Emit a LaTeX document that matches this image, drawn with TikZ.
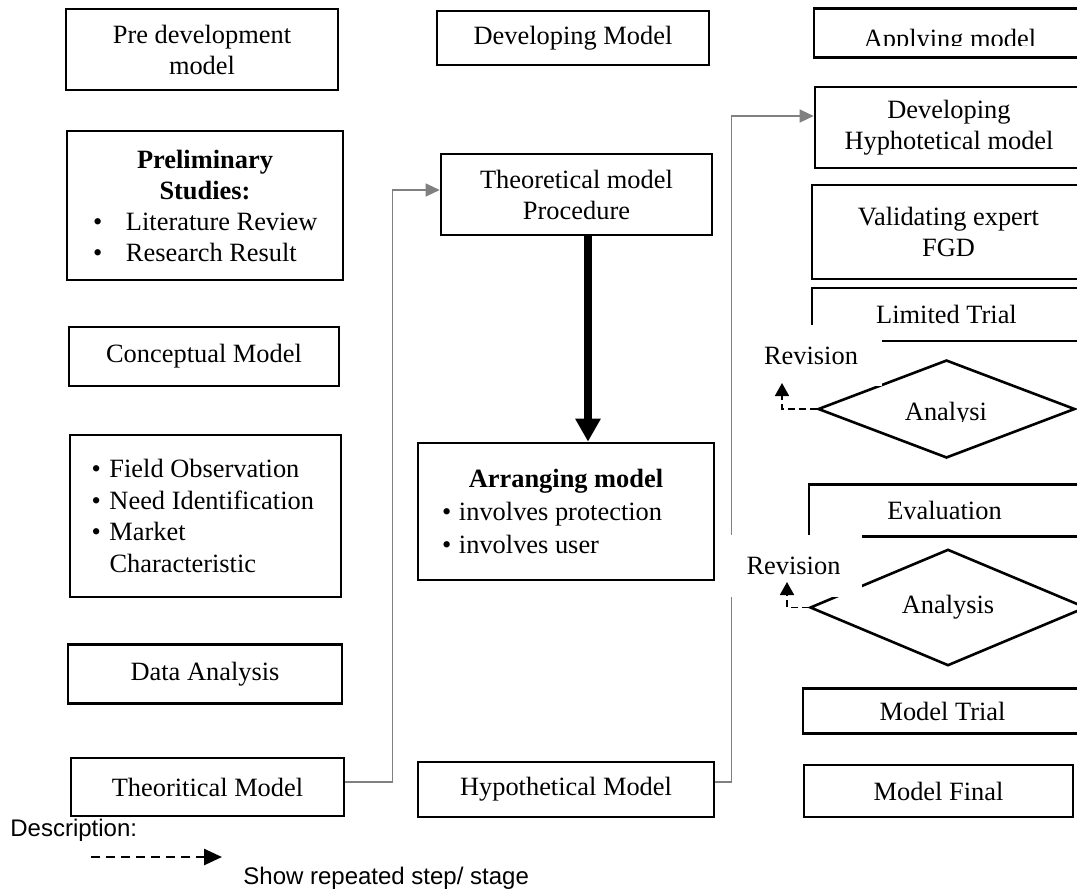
\documentclass[tikz,border=0pt]{standalone}
\usepackage{fontspec}
\setmainfont{Liberation Serif}
\setsansfont{Liberation Sans}
\usetikzlibrary{shapes.geometric,arrows.meta}
\tikzset{stagebox/.style={shape=rectangle, draw, line width=1.3pt, align=center, inner sep=2pt, font=\fontsize{13.2}{15.5}\selectfont}}
\tikzset{analysisnode/.style={shape=diamond, draw, line width=1.3pt, inner sep=0pt, font=\fontsize{13.2}{15.5}\selectfont}}
\tikzset{plaintext/.style={inner sep=0pt, font=\fontsize{13.2}{15.5}\selectfont}}
\tikzset{revisionnode/.style={fill=white, inner sep=0pt, font=\fontsize{13.2}{15.5}\selectfont}}
\tikzset{linkline/.style={draw=gray, line width=0.6pt, -{Triangle[length=7pt,width=6.5pt]}}}
\tikzset{revisionline/.style={dash pattern=on 3.5pt off 2pt, line width=0.9pt, -{Triangle[length=6.5pt,width=7pt]}}}
\tikzset{keyline/.style={dash pattern=on 4.5pt off 3pt, line width=1.3pt, -{Triangle[length=9pt,width=8pt]}}}
\tikzset{keytext/.style={inner sep=0pt, anchor=west, font=\sffamily\fontsize{12}{14}\selectfont}}
\newcommand{\bul}[1]{\makebox[#1][l]{\textbullet}}

\begin{document}
\begin{tikzpicture}[x=0.5pt,y=-0.5pt]
\useasboundingbox (0,0) rectangle (1077,890);
\clip (0,0) rectangle (1077,890);
\node[style=stagebox, minimum width=136pt, minimum height=40.5pt] (pre) at (202,49.5) {Pre development\\model};
\node[style=stagebox, minimum width=138pt, minimum height=74.5pt] (prelim) at (205,205.5) {\textbf{Preliminary}\\\textbf{Studies:}\\\makebox[112pt][l]{\bul{16.5pt}Literature Review}\\\makebox[112pt][l]{\bul{16.5pt}Research Result}};
\node[style=stagebox, minimum width=135pt, minimum height=29.5pt] (concept) at (204,356.5) {Conceptual Model};
\node[style=stagebox, minimum width=135.5pt, minimum height=81pt, font=\fontsize{13.2}{15.8}\selectfont] (field) at (205.5,516) {\makebox[114pt][l]{\bul{9pt}Field Observation}\\\makebox[114pt][l]{\bul{9pt}Need Identification}\\\makebox[114pt][l]{\bul{9pt}Market}\\\makebox[114pt][l]{\hspace{9pt}Characteristic}};
\node[style=stagebox, minimum width=137pt, minimum height=29.5pt] (data) at (205,674) {Data Analysis};
\node[style=stagebox, minimum width=136.5pt, minimum height=29pt] (theor) at (207.5,787) {Theoritical Model};

\node[style=stagebox, minimum width=136pt, minimum height=27pt] (dev) at (573,38) {Developing Model};
\node[style=stagebox, minimum width=135.5pt, minimum height=40.5pt] (proc) at (576.5,194.5) {Theoretical model\\Procedure};
\node[style=stagebox, minimum width=148pt, minimum height=68.5pt, font=\fontsize{13.2}{16.5}\selectfont] (arrange) at (566,511.5) {\textbf{Arranging model}\\\makebox[124pt][l]{\bul{8.5pt}involves protection}\\\makebox[124pt][l]{\bul{8.5pt}involves user}};
\node[style=stagebox, minimum width=148pt, minimum height=27.5pt] (hypo) at (566,789.5) {Hypothetical Model};

\node[style=stagebox, minimum width=136pt, minimum height=24.5pt] (apply) at (950,33) {};
\node[style=stagebox, minimum width=134pt, minimum height=40.5pt] (hyp) at (949,127.5) {Developing\\Hyphotetical model};
\node[style=stagebox, minimum width=136.5pt, minimum height=47pt] (valid) at (948.5,232) {Validating expert\\FGD};
\node[style=stagebox, minimum width=134.5pt, minimum height=26.5pt] (limited) at (946.5,314.5) {Limited Trial};
\node[style=analysisnode, minimum width=128.5pt, minimum height=49pt] (analysis1) at (946.5,409) {};
\node[style=stagebox, minimum width=135.5pt, minimum height=26pt] (evaluation) at (944.5,510.5) {Evaluation};
\node[style=analysisnode, minimum width=138pt, minimum height=50.5pt] (analysis2) at (948,607.5) {Analysis};
\node[style=stagebox, minimum width=139.5pt, minimum height=22.5pt] (modeltrial) at (942.5,711) {Model Trial};
\node[style=stagebox, minimum width=134.5pt, minimum height=26pt] (modelfinal) at (938.5,791) {Model Final};

\begin{scope}
\clip (800,0) rectangle (1077,45.5);
\node[style=plaintext, anchor=base] (applylabel) at (950,47) {Applying model};
\end{scope}
\begin{scope}
\clip (818,360) rectangle (1077,421.5);
\node[style=plaintext, anchor=base] (analysislabel) at (946,420) {Analysi};
\end{scope}

\draw[linkline] ([yshift=2.5pt]theor.east) -- ++(47.5,0) |- ([yshift=2.25pt]proc.west);
\draw[linkline] ([yshift=3.75pt]hypo.east) -- ++(16.5,0) |- ([yshift=5.75pt]hyp.west);
\draw[line width=4pt, -{Triangle[length=11.5pt,width=12pt]}] ([xshift=5.75pt]proc.south) -- ([xshift=5.75pt]proc.south |- arrange.north);

\node[style=revisionnode, minimum width=71pt, minimum height=30.5pt] (rev1) at (811,355.5) {Revision};
\node[style=revisionnode, minimum width=68.5pt, minimum height=31pt] (rev2) at (793.5,566) {Revision\hspace{5.5pt}};
\coordinate (rev1tip) at (782,383);
\coordinate (rev2tip) at (787,582);
\draw[revisionline] (analysis1.west) -| (rev1tip);
\draw[revisionline] (analysis2.west) -| (rev2tip);

\node[style=keytext] (desc) at (10,830) {Description:};
\coordinate (keystart) at (91,857);
\coordinate (keyend) at (222,857);
\draw[keyline] (keystart) -- (keyend);
\node[style=keytext] (keylabel) at (243,878) {Show repeated step/ stage};
\end{tikzpicture}
\end{document}
